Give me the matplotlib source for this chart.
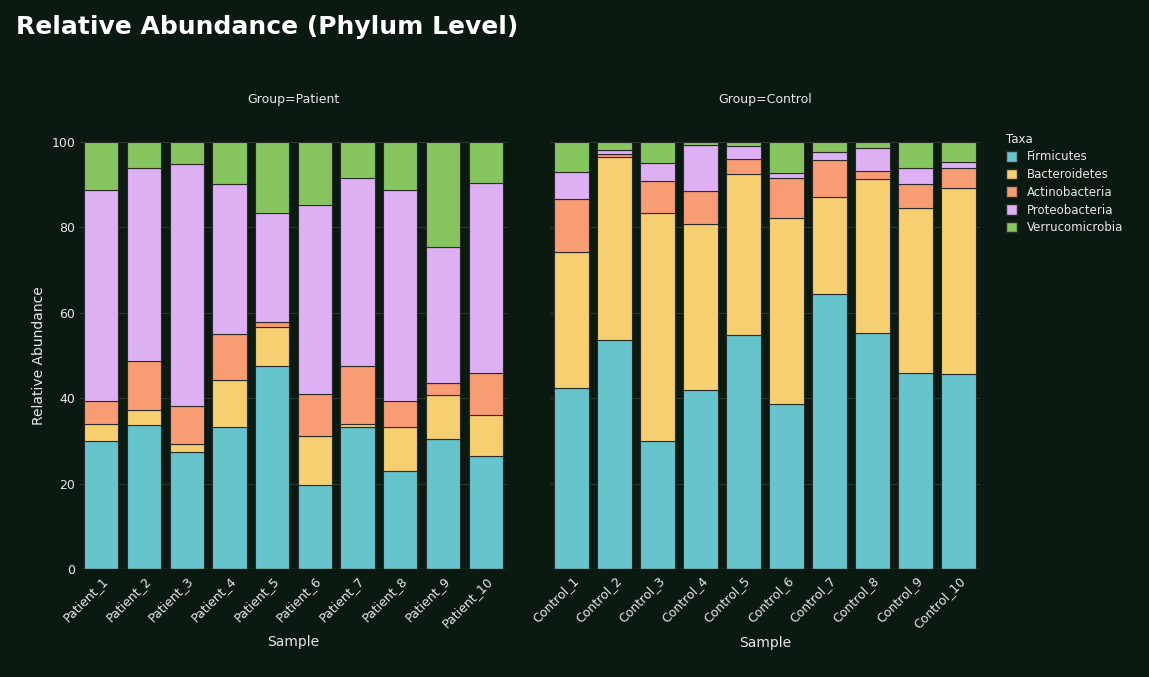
import matplotlib.pyplot as plt
from matplotlib.patches import Patch

taxa = ["Firmicutes", "Bacteroidetes", "Actinobacteria", "Proteobacteria", "Verrucomicrobia"]
colors = ["#66c5cc", "#f6cf71", "#f89c74", "#dcb0f2", "#87c55f"]

patients = [f"Patient_{i}" for i in range(1, 11)]
controls = [f"Control_{i}" for i in range(1, 11)]

# cumulative tops, turned into per-taxon values below
patient_tops = [
    [30.0, 34.0, 39.3, 88.8],
    [33.7, 37.2, 48.7, 93.9],
    [27.4, 29.3, 38.2, 94.8],
    [33.3, 44.3, 55.0, 90.2],
    [47.5, 56.7, 57.8, 83.4],
    [19.7, 31.1, 41.0, 85.2],
    [33.3, 34.0, 47.5, 91.6],
    [22.9, 33.3, 39.3, 88.8],
    [30.4, 40.7, 43.6, 75.4],
    [26.5, 36.1, 45.9, 90.4],
]
control_tops = [
    [42.4, 74.2, 86.7, 93.0],
    [53.6, 96.5, 97.2, 98.1],
    [30.0, 83.4, 90.9, 95.1],
    [41.9, 80.8, 88.5, 99.3],
    [54.8, 92.5, 96.0, 99.1],
    [38.6, 82.2, 91.6, 92.7],
    [64.4, 87.1, 95.8, 97.7],
    [55.3, 91.3, 93.2, 98.6],
    [45.9, 84.5, 90.2, 93.9],
    [45.7, 89.2, 93.9, 95.3],
]

bg = "#0a1a10"
fg = "#e8e8e8"

fig = plt.figure(figsize=(11.49, 6.77), dpi=100, facecolor=bg)
W, H = 1149, 677
ax1 = fig.add_axes([80 / W, 1 - 569 / H, 427 / W, 427 / H])
ax2 = fig.add_axes([550 / W, 1 - 569 / H, 430 / W, 427 / H])

for ax, names, tops, grp in [(ax1, patients, patient_tops, "Patient"),
                             (ax2, controls, control_tops, "Control")]:
    ax.set_facecolor(bg)
    x = range(len(names))
    for k in range(5):
        lows = [0 if k == 0 else t[k - 1] for t in tops]
        highs = [t[k] if k < 4 else 100 for t in tops]
        vals = [h - l for h, l in zip(highs, lows)]
        ax.bar(x, vals, bottom=lows, width=0.8, color=colors[k],
               edgecolor="#2a2a2a", linewidth=0.8, zorder=3)
    ax.set_ylim(0, 100)
    ax.set_xlim(-0.5, len(names) - 0.5)
    ax.set_yticks(range(0, 101, 20))
    ax.grid(axis="y", color="#2c3a30", linewidth=0.8, zorder=0)
    for s in ax.spines.values():
        s.set_visible(False)
    ax.axhline(0, color="#555", linewidth=1, zorder=4)
    ax.set_xticks(list(x))
    ax.set_xticklabels(names, rotation=-45 if False else 45, ha="right",
                       rotation_mode="anchor", color=fg, fontsize=9)
    ax.tick_params(axis="both", length=0, colors=fg, labelsize=9)
    ax.set_xlabel("Sample", color=fg, fontsize=10)
    ax.set_title(f"Group={grp}", color=fg, fontsize=9, pad=28)

ax2.set_yticklabels([])
ax1.set_ylabel("Relative Abundance", color=fg, fontsize=10)

fig.text(16 / W, 1 - 27 / H, "Relative Abundance (Phylum Level)", color="white",
         fontsize=18, fontweight="bold", va="center")

handles = [Patch(facecolor=c, edgecolor="#2a2a2a") for c in colors]
leg = fig.legend(handles, taxa, title="Taxa", loc="upper left",
                 bbox_to_anchor=(995 / W, 1 - 122 / H), frameon=False,
                 fontsize=8.5, title_fontsize=8.5, labelcolor=fg,
                 handlelength=1.0, handleheight=1.0, labelspacing=0.4)
leg.get_title().set_color(fg)
leg._legend_box.align = "left"

fig.savefig("out.png", dpi=100, facecolor=bg)
